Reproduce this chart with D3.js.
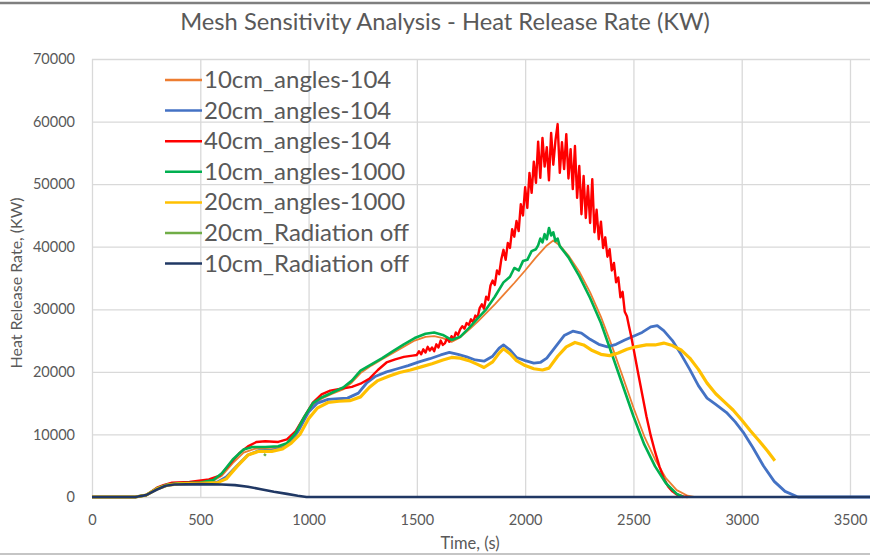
<!DOCTYPE html>
<html>
<head>
<meta charset="utf-8">
<script src="https://d3js.org/d3.v7.min.js"></script>
<style>
  body { margin: 0; background: #fff; }
  text { font-family: Lato, "Open Sans", sans-serif; fill: #595959; }
</style>
</head>
<body>
<div id="chart"></div>
<script>
// tick values
var xTicks = [0, 500, 1000, 1500, 2000, 2500, 3000, 3500];
var yTicks = [0, 10000, 20000, 30000, 40000, 50000, 60000, 70000];

var seriesNames = ["10cm_angles-104", "20cm_angles-104", "40cm_angles-104", "10cm_angles-1000",
                   "20cm_angles-1000", "20cm_Radiation off", "10cm_Radiation off"];
var seriesColors = ["#ED7D31", "#4472C4", "#FF0000", "#00B050", "#FFC000", "#70AD47", "#203864"];

// [time (s), HRR (kW)]
var angles104_10cm = [[0,0],[200,0],[250,300],[300,1400],[350,2000],[400,2200],[500,2300],[560,2600],[600,3400],[650,5400],[700,7100],[750,7700],[800,7800],[860,7900],[900,8500],[940,10000],[980,12500],[1020,14700],[1060,15700],[1110,16500],[1160,17200],[1200,18300],[1240,19800],[1290,21000],[1340,22000],[1390,23000],[1440,24000],[1490,25000],[1540,25600],[1580,25700],[1620,25400],[1660,24800],[1700,25500],[1740,26700],[1780,28000],[1820,29400],[1860,30800],[1900,32300],[1950,34200],[2000,36200],[2050,38300],[2100,40200],[2130,41000],[2160,40200],[2200,38600],[2250,36000],[2300,32700],[2350,28800],[2400,24200],[2450,19300],[2500,14300],[2550,9700],[2600,6000],[2650,3000],[2700,1100],[2750,200],[2780,0]];

var angles104_20cm = [[0,0],[200,0],[250,300],[300,1300],[350,1900],[400,2100],[500,2200],[580,2400],[620,3200],[670,5000],[720,6700],[770,7400],[830,7500],[880,7800],[920,8800],[960,11000],[1000,13600],[1040,15000],[1090,15600],[1140,15700],[1180,15800],[1230,16600],[1270,18300],[1310,19300],[1360,20000],[1410,20500],[1460,21000],[1510,21600],[1560,22100],[1610,22700],[1650,23100],[1690,22800],[1730,22400],[1770,21900],[1810,21700],[1850,22500],[1880,23800],[1900,24300],[1930,23500],[1960,22300],[2000,21800],[2040,21400],[2070,21500],[2100,22200],[2140,24000],[2180,25800],[2220,26500],[2260,26200],[2300,25200],[2340,24400],[2380,24000],[2420,24400],[2460,25100],[2500,25700],[2540,26300],[2580,27200],[2610,27400],[2640,26600],[2680,25000],[2720,22800],[2760,20400],[2800,17800],[2840,15800],[2880,14800],[2930,13500],[2970,12000],[3010,10200],[3050,8000],[3100,5000],[3150,2500],[3200,900],[3260,0],[3600,0]];

var angles104_40cm = [[0,0],[200,0],[250,300],[300,1500],[330,1900],[370,2300],[450,2400],[540,2800],[590,3400],[630,5000],[680,7000],[720,8100],[760,8800],[800,8900],[860,8800],[900,9200],[940,10500],[980,12800],[1020,15100],[1060,16400],[1100,17000],[1150,17300],[1200,17600],[1240,18100],[1280,18900],[1320,20300],[1360,21500],[1400,22000],[1440,22400],[1480,22600],[1500,22700],[1510,23300],[1520,22800],[1530,23600],[1540,23100],[1550,24000],[1560,23400],[1570,23900],[1580,23300],[1590,24400],[1600,23900],[1610,25000],[1620,24300],[1630,24600],[1640,25400],[1650,24800],[1660,25700],[1670,25200],[1680,26300],[1690,25900],[1700,26800],[1710,27300],[1720,26900],[1730,27800],[1740,27500],[1750,28400],[1760,27900],[1770,29000],[1780,28600],[1790,30200],[1800,30800],[1810,30100],[1820,32000],[1830,31500],[1840,33800],[1850,34600],[1860,33900],[1870,36200],[1880,35600],[1890,38000],[1900,39500],[1910,37900],[1920,40600],[1930,39800],[1940,42800],[1950,41600],[1960,44100],[1970,42500],[1980,46800],[1990,45000],[2000,49500],[2010,46200],[2020,51800],[2030,48600],[2040,53600],[2050,50200],[2060,56800],[2070,51000],[2080,57400],[2090,52800],[2100,55900],[2110,50600],[2120,58200],[2130,53100],[2140,57000],[2150,59600],[2160,51800],[2170,56700],[2180,52400],[2190,58000],[2200,50900],[2210,55600],[2220,49200],[2230,56100],[2240,47800],[2250,52900],[2260,45200],[2270,51300],[2280,44600],[2290,49700],[2300,43800],[2310,50800],[2320,42300],[2330,45900],[2340,41200],[2350,44000],[2360,39800],[2370,41500],[2380,38400],[2390,39600],[2400,36200],[2410,37400],[2420,34300],[2430,35100],[2440,31900],[2450,32800],[2460,29600],[2470,28900],[2480,27200],[2490,25600],[2500,23800],[2520,20100],[2540,16500],[2560,12900],[2580,9800],[2600,7200],[2620,4900],[2640,3000],[2660,1700],[2680,900],[2700,400],[2730,100],[2750,0]];

var angles1000_10cm = [[0,0],[200,0],[250,300],[300,1400],[350,2000],[400,2200],[500,2300],[560,2700],[600,3800],[650,6000],[700,7600],[740,8000],[800,8000],[860,8100],[900,8600],[940,10200],[980,12800],[1020,15000],[1060,15900],[1110,16700],[1160,17500],[1200,18600],[1240,20200],[1290,21200],[1340,22200],[1390,23300],[1440,24400],[1490,25400],[1540,26100],[1580,26300],[1620,25900],[1660,25100],[1700,25600],[1740,27000],[1780,28500],[1820,30000],[1860,32000],[1900,34300],[1930,35200],[1950,36600],[1970,36200],[1990,37700],[2010,37900],[2030,39300],[2050,39600],[2060,40200],[2070,41300],[2080,40700],[2090,42000],[2100,41200],[2110,43000],[2120,41800],[2130,42300],[2140,40900],[2150,41300],[2160,40100],[2200,38300],[2250,35300],[2300,31800],[2350,27800],[2400,22900],[2450,17900],[2500,12900],[2550,8400],[2600,4900],[2650,2200],[2700,500],[2730,0]];

var angles1000_20cm = [[0,0],[200,0],[250,300],[300,1300],[350,1900],[400,2100],[500,2200],[580,2300],[620,2900],[670,4900],[720,6700],[770,7300],[830,7300],[880,7700],[920,8600],[960,10000],[1000,12500],[1040,14200],[1090,15100],[1140,15300],[1190,15400],[1240,16000],[1280,17500],[1320,18600],[1370,19300],[1420,19900],[1470,20300],[1520,20800],[1570,21300],[1620,21900],[1660,22300],[1700,22200],[1740,21800],[1780,21200],[1810,20700],[1850,21600],[1880,23000],[1900,23700],[1930,22900],[1960,21800],[2000,21000],[2040,20500],[2080,20300],[2110,20600],[2150,22500],[2190,24000],[2230,24700],[2270,24300],[2310,23400],[2350,22800],[2390,22600],[2430,23000],[2470,23600],[2510,24000],[2560,24300],[2600,24300],[2640,24600],[2680,24200],[2720,23500],[2760,22200],[2800,20400],[2840,18200],[2880,16500],[2920,15200],[2960,13900],[3000,12300],[3040,10600],[3080,9000],[3120,7300],[3153,5800]];

var radOff_20cm = [[795,6600],[802,6900]];

var radOff_10cm = [[0,0],[200,0],[250,300],[300,1200],[340,1800],[380,2000],[500,2050],[600,2000],[660,1900],[720,1650],[780,1250],[840,850],[900,500],[950,200],[990,0],[3600,0]];

var seriesData = [angles104_10cm, angles104_20cm, angles104_40cm, angles1000_10cm,
                  angles1000_20cm, radOff_20cm, radOff_10cm];
var seriesWidths = [1.8, 2.8, 2.4, 2.6, 3.2, 2.6, 2.6];

var W = 870, H = 559;
var svg = d3.select("#chart").append("svg")
    .attr("width", W)
    .attr("height", H);

// chart border (top and bottom visible in the crop)
svg.append("line").attr("x1", 0).attr("x2", W).attr("y1", 3).attr("y2", 3)
  .attr("stroke", "#7f7f7f").attr("stroke-width", 2.5);
svg.append("line").attr("x1", 0).attr("x2", W).attr("y1", 554).attr("y2", 554)
  .attr("stroke", "#8c8c8c").attr("stroke-width", 1.2);

var x = d3.scaleLinear().domain([0, 3500]).range([92, 850]);
var y = d3.scaleLinear().domain([0, 70000]).range([497, 59]);
var xMax = x(3600);

// gridlines
svg.append("g")
  .attr("transform", "translate(0," + y(70000) + ")")
  .call(d3.axisBottom(x).tickValues(xTicks).tickSize(y(0) - y(70000)).tickFormat(""))
  .call(function(g) { g.select(".domain").remove(); })
  .selectAll("line").attr("stroke", "#d9d9d9").attr("stroke-width", 1.3);

svg.append("g")
  .attr("transform", "translate(" + x(0) + ",0)")
  .call(d3.axisRight(y).tickValues(yTicks).tickSize(xMax - x(0)).tickFormat(""))
  .call(function(g) { g.select(".domain").remove(); })
  .selectAll("line").attr("stroke", "#d9d9d9").attr("stroke-width", 1.3);

// tick labels
var yAxis = svg.append("g")
  .attr("transform", "translate(" + (x(0) - 14) + ",0)")
  .call(d3.axisLeft(y).tickValues(yTicks).tickSize(0).tickFormat(d3.format("d")));
yAxis.select(".domain").remove();
yAxis.selectAll("text").attr("font-size", 14.5).attr("fill", "#595959")
  .style("font-family", "Lato, sans-serif");

var xAxis = svg.append("g")
  .attr("transform", "translate(0," + (y(0) + 15) + ")")
  .call(d3.axisBottom(x).tickValues(xTicks).tickSize(0).tickFormat(d3.format("d")));
xAxis.select(".domain").remove();
xAxis.selectAll("text").attr("font-size", 14.5).attr("fill", "#595959")
  .style("font-family", "Lato, sans-serif");

// lines
var line = d3.line()
  .x(function(d) { return x(d[0]); })
  .y(function(d) { return y(d[1]); });

seriesData.forEach(function(data, i) {
  svg.append("path")
    .datum(data)
    .attr("fill", "none")
    .attr("stroke", seriesColors[i])
    .attr("stroke-width", seriesWidths[i])
    .attr("stroke-linejoin", "round")
    .attr("d", line);
});

// title and axis titles
svg.append("text")
  .attr("x", 445).attr("y", 30)
  .attr("text-anchor", "middle")
  .attr("font-size", 23.7)
  .text("Mesh Sensitivity Analysis - Heat Release Rate (KW)");

svg.append("text")
  .attr("transform", "translate(22,283) rotate(-90)")
  .attr("text-anchor", "middle")
  .attr("font-size", 16)
  .text("Heat Release Rate, (KW)");

svg.append("text")
  .attr("x", 470).attr("y", 549)
  .attr("text-anchor", "middle")
  .attr("font-size", 16.5)
  .text("Time, (s)");

// legend
var legend = svg.append("g").attr("transform", "translate(165,80)");
seriesNames.forEach(function(name, i) {
  var row = legend.append("g").attr("transform", "translate(0," + (i * 30.6) + ")");
  row.append("line")
    .attr("x1", 0).attr("x2", 37).attr("y1", 0).attr("y2", 0)
    .attr("stroke", seriesColors[i]).attr("stroke-width", 2.5);
  row.append("text")
    .attr("x", 39).attr("y", 8)
    .attr("font-size", 24)
    .text(name);
});
</script>
</body>
</html>
